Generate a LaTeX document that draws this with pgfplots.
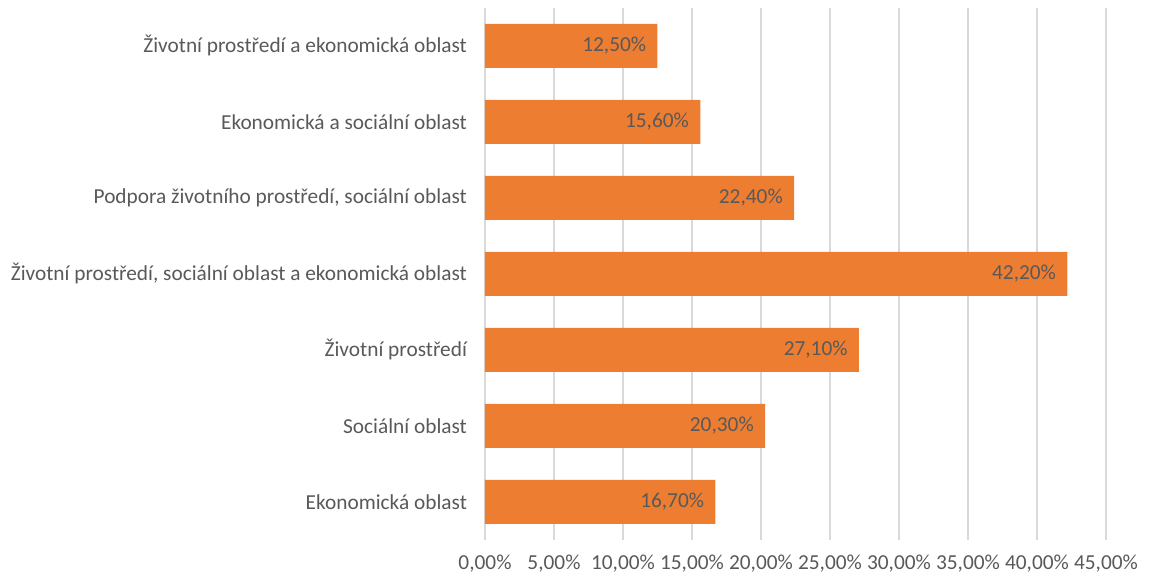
\documentclass[border=0pt]{standalone}
\usepackage{pgfplots}
\pgfplotsset{compat=1.18}
\usepackage{fontspec}
\setmainfont{Carlito}
\definecolor{barorange}{RGB}{237,125,49}
\definecolor{txtgray}{RGB}{89,89,89}
\definecolor{gridgray}{RGB}{217,217,217}

\begin{document}
\begin{tikzpicture}
\begin{axis}[
  xbar,
  scale only axis,
  width=465.75pt,
  height=399pt,
  xmin=0, xmax=45,
  ymin=-0.5, ymax=6.5,
  xtick={0,5,...,45},
  ytick=data,
  yticklabels={Ekonomická oblast,
    Sociální oblast,
    Životní prostředí,
    {Životní prostředí, sociální oblast a ekonomická oblast},
    {Podpora životního prostředí, sociální oblast},
    Ekonomická a sociální oblast,
    Životní prostředí a ekonomická oblast},
  xticklabel={\pgfmathprintnumber[fixed,fixed zerofill,precision=2,use comma]{\tick}\%},
  /pgf/number format/assume math mode=true,
  scaled x ticks=false,
  major tick length=0pt,
  axis line style={draw=none},
  xmajorgrids=true,
  grid style={gridgray, line width=1.3pt},
  tick label style={font=\fontsize{16pt}{18pt}\selectfont, text=txtgray},
  yticklabel style={xshift=-10pt},
  xticklabel style={yshift=-8pt},
  bar width=33pt,
  clip=false,
  nodes near coords={\pgfmathprintnumber[fixed,fixed zerofill,precision=2,use comma]{\pgfplotspointmeta}\%},
  point meta=x,
  every node near coord/.append style={anchor=east, xshift=-5pt,
    font=\fontsize{16pt}{18pt}\selectfont, text=txtgray},
  ]
\addplot[fill=barorange, draw=none] coordinates {
  (16.7,0) (20.3,1) (27.1,2) (42.2,3) (22.4,4) (15.6,5) (12.5,6)
};
\path (rel axis cs:-0.781,-0.0771) (rel axis cs:1.0757,1.015);
\end{axis}
\end{tikzpicture}
\end{document}
